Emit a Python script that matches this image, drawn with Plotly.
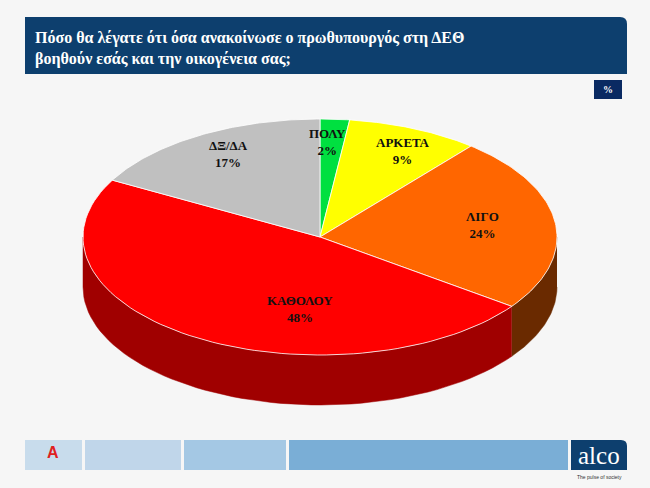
import numpy as np
import plotly.graph_objects as go

labels = ["ΠΟΛΥ", "ΑΡΚΕΤΑ", "ΛΙΓΟ", "ΚΑΘΟΛΟΥ", "ΔΞ/ΔΑ"]
values = [2, 9, 24, 48, 17]
top_colors = ["#00e040", "#ffff00", "#ff6600", "#ff0000", "#c0c0c0"]
side_colors = ["#009a2c", "#b0b000", "#6a2a00", "#a00000", "#808080"]

SERIF = "Liberation Serif, Times New Roman, serif"

# pie geometry in page pixels
cx, cy, rx, ry, depth = 320, 237, 237, 118, 50

def pt(t, dy=0):
    return cx + rx * np.sin(t), cy - ry * np.cos(t) + dy

fig = go.Figure()

# header / footer boxes
shapes = [
    dict(type="path", path="M 25 17 L 620 17 Q 627 17 627 24 L 627 74 L 25 74 Z",
         fillcolor="#0d3f6e", line=dict(width=0)),
    dict(type="rect", x0=594, x1=622, y0=80, y1=99, fillcolor="#0a2a62", line=dict(width=0)),
    dict(type="rect", x0=25, x1=82, y0=440, y1=470, fillcolor="#c8dcec", line=dict(width=0)),
    dict(type="rect", x0=85, x1=181, y0=440, y1=470, fillcolor="#c0d6ea", line=dict(width=0)),
    dict(type="rect", x0=184, x1=286, y0=440, y1=470, fillcolor="#a4c8e4", line=dict(width=0)),
    dict(type="rect", x0=289, x1=568, y0=440, y1=470, fillcolor="#7aaed6", line=dict(width=0)),
    dict(type="path", path="M 571 440 L 621 440 Q 627 440 627 446 L 627 470 L 571 470 Z",
         fillcolor="#0d3f6e", line=dict(width=0)),
]

cum = np.cumsum([0] + values) / sum(values) * 2 * np.pi

# side walls (front half only)
for i in range(len(values)):
    a0, a1 = max(cum[i], np.pi / 2), min(cum[i + 1], 3 * np.pi / 2)
    if a1 <= a0:
        continue
    t = np.linspace(a0, a1, 60)
    xs, ys = pt(t)
    xb, yb = pt(t[::-1], depth)
    fig.add_trace(go.Scatter(x=np.r_[xs, xb], y=np.r_[ys, yb], fill="toself", mode="lines",
                             line=dict(width=0.5, color=side_colors[i]),
                             fillcolor=side_colors[i], hoverinfo="skip"))

# top faces
for i in range(len(values)):
    t = np.linspace(cum[i], cum[i + 1], 80)
    xs, ys = pt(t)
    fig.add_trace(go.Scatter(x=np.r_[cx, xs, cx], y=np.r_[cy, ys, cy], fill="toself", mode="lines",
                             line=dict(width=0.8, color="#ffffff"),
                             fillcolor=top_colors[i], name=labels[i], hoverinfo="name"))

label_pos = [(327, 142), (403, 151), (482, 225), (300, 309), (228, 154)]
ann = []
for (x, y), lab, v in zip(label_pos, labels, values):
    ann.append(dict(x=x, y=y, text=f"<b>{lab}<br>{v}%</b>", showarrow=False,
                    font=dict(family=SERIF, size=13, color="#111111")))

ann += [
    dict(x=33, y=48, xanchor="left", align="left", showarrow=False,
         text="<b>Πόσο θα λέγατε ότι όσα ανακοίνωσε ο πρωθυπουργός στη ΔΕΘ<br>βοηθούν εσάς και την οικογένεια σας;</b>",
         font=dict(family=SERIF, size=16, color="white")),
    dict(x=608, y=89, text="<b>%</b>", showarrow=False,
         font=dict(family=SERIF, size=10, color="white")),
    dict(x=599, y=455, text="alco", showarrow=False,
         font=dict(family=SERIF, size=25, color="white")),
    dict(x=599, y=477, text="The pulse of society", showarrow=False,
         font=dict(family="Liberation Sans", size=5, color="#333333")),
    dict(x=53, y=452, text="<b>A</b>", showarrow=False,
         font=dict(family="Liberation Sans", size=16, color="#e02020")),
]

fig.update_layout(
    width=650, height=488, margin=dict(l=0, r=0, t=0, b=0),
    paper_bgcolor="#eeeeee", plot_bgcolor="#f6f6f6", showlegend=False,
    xaxis=dict(range=[0, 650], visible=False, fixedrange=True),
    yaxis=dict(range=[488, 0], visible=False, fixedrange=True),
    shapes=shapes, annotations=ann,
)
fig.write_html("out.html", config=dict(displayModeBar=False),
               post_script="document.body.style.margin='0';")
